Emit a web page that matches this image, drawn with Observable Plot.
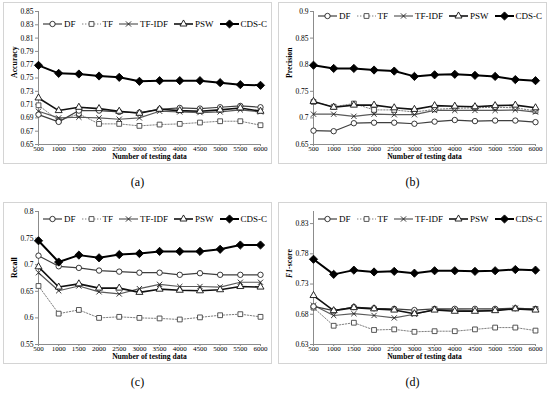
<!DOCTYPE html>
<html>
<head>
<meta charset="utf-8">
<script src="https://cdn.jsdelivr.net/npm/d3@7"></script>
<script src="https://cdn.jsdelivr.net/npm/@observablehq/plot@0.6"></script>
<style>
  html, body { margin: 0; padding: 0; background: #fff; }
  #page { position: relative; width: 550px; height: 399px; overflow: hidden; font-family: "Liberation Serif", "Times New Roman", serif; }
  .panel { position: absolute; width: 275px; height: 200px; }
  .frame { position: absolute; left: 3px; top: 2px; width: 267px; height: 160px; border: 1px solid #d4d4d4; }
  .plot { position: absolute; left: 0; top: 0; }
  .legend { position: absolute; left: 43px; display: flex; align-items: center; gap: 6px; font-size: 9px; color: #000; white-space: nowrap; }
  .legend .item { display: flex; align-items: center; gap: 2px; }
  .caption { position: absolute; width: 275px; text-align: center; font-size: 12px; top: 175px; }
</style>
</head>
<body>
<div id="page"></div>
<script>
// ---------- data ----------
const testingData = [500, 1000, 1500, 2000, 2500, 3000, 3500, 4000, 4500, 5000, 5500, 6000];
const seriesNames = ["DF", "TF", "TF-IDF", "PSW", "CDS-C"];

// (a) Accuracy
const accuracyDF    = [0.695, 0.684, 0.701, 0.701, 0.699, 0.698, 0.703, 0.705, 0.704, 0.706, 0.708, 0.706];
const accuracyTF    = [0.709, 0.686, 0.696, 0.681, 0.681, 0.678, 0.680, 0.681, 0.683, 0.685, 0.685, 0.679];
const accuracyTFIDF = [0.700, 0.690, 0.691, 0.690, 0.688, 0.690, 0.700, 0.699, 0.698, 0.699, 0.702, 0.699];
const accuracyPSW   = [0.720, 0.701, 0.706, 0.704, 0.700, 0.697, 0.703, 0.701, 0.700, 0.702, 0.705, 0.700];
const accuracyCDSC  = [0.769, 0.757, 0.756, 0.753, 0.751, 0.745, 0.746, 0.746, 0.746, 0.743, 0.740, 0.739];

// (b) Precision
const precisionDF    = [0.676, 0.675, 0.690, 0.691, 0.691, 0.689, 0.693, 0.696, 0.694, 0.695, 0.695, 0.692];
const precisionTF    = [0.730, 0.721, 0.727, 0.715, 0.715, 0.711, 0.716, 0.718, 0.719, 0.720, 0.719, 0.713];
const precisionTFIDF = [0.707, 0.707, 0.703, 0.707, 0.706, 0.706, 0.714, 0.714, 0.714, 0.714, 0.715, 0.711];
const precisionPSW   = [0.731, 0.720, 0.724, 0.724, 0.719, 0.716, 0.723, 0.722, 0.721, 0.723, 0.724, 0.719];
const precisionCDSC  = [0.799, 0.793, 0.793, 0.790, 0.788, 0.778, 0.781, 0.782, 0.780, 0.778, 0.772, 0.770];

// (c) Recall
const recallDF    = [0.717, 0.697, 0.694, 0.689, 0.687, 0.685, 0.685, 0.681, 0.684, 0.681, 0.681, 0.681];
const recallTF    = [0.660, 0.608, 0.615, 0.600, 0.602, 0.600, 0.599, 0.597, 0.601, 0.605, 0.607, 0.602];
const recallTFIDF = [0.685, 0.651, 0.660, 0.649, 0.645, 0.655, 0.663, 0.659, 0.659, 0.658, 0.667, 0.667];
const recallPSW   = [0.696, 0.658, 0.664, 0.656, 0.656, 0.648, 0.654, 0.652, 0.651, 0.653, 0.659, 0.658];
const recallCDSC  = [0.745, 0.705, 0.718, 0.713, 0.719, 0.721, 0.725, 0.725, 0.725, 0.729, 0.737, 0.737];

// (d) F1-score
const f1DF    = [0.693, 0.686, 0.692, 0.690, 0.689, 0.687, 0.689, 0.689, 0.689, 0.689, 0.690, 0.689];
const f1TF    = [0.691, 0.661, 0.666, 0.654, 0.655, 0.651, 0.652, 0.652, 0.655, 0.658, 0.658, 0.653];
const f1TFIDF = [0.695, 0.678, 0.681, 0.678, 0.674, 0.680, 0.688, 0.687, 0.686, 0.687, 0.690, 0.689];
const f1PSW   = [0.711, 0.686, 0.691, 0.689, 0.687, 0.681, 0.687, 0.685, 0.685, 0.686, 0.689, 0.687];
const f1CDSC  = [0.771, 0.746, 0.753, 0.750, 0.751, 0.748, 0.752, 0.752, 0.751, 0.752, 0.754, 0.753];

// tick labels
const accuracyTicks  = [0.65, 0.67, 0.69, 0.71, 0.73, 0.75, 0.77, 0.79, 0.81, 0.83, 0.85];
const precisionTicks = [0.65, 0.7, 0.75, 0.8, 0.85, 0.9];
const recallTicks    = [0.55, 0.6, 0.65, 0.7, 0.75, 0.8];
const f1Ticks        = [0.63, 0.68, 0.73, 0.78, 0.83];

const xTitle = "Number of testing data";

// ---------- styles ----------
const styles = {
  "DF":     {stroke: "#3f3f3f", width: 1.2, dash: null,      symbol: "circle",   r: 2.7, fill: "white", dotStroke: "#222"},
  "TF":     {stroke: "#7f7f7f", width: 1.0, dash: "1.4,1.6", symbol: "square",   r: 2.7, fill: "white", dotStroke: "#444"},
  "TF-IDF": {stroke: "#5a5a5a", width: 1.2, dash: null,      symbol: "times",    r: 2.5, fill: "none",  dotStroke: "#222"},
  "PSW":    {stroke: "#111",    width: 1.6, dash: null,      symbol: "triangle", r: 2.6, fill: "white", dotStroke: "#111"},
  "CDS-C":  {stroke: "#000",    width: 2.0, dash: null,      symbol: "diamond2", r: 3.7, fill: "#000",  dotStroke: "#000"}
};
const drawOrder = ["TF", "TF-IDF", "DF", "PSW", "CDS-C"];
const d3Symbols = {circle: d3.symbolCircle, square: d3.symbolSquare, times: d3.symbolTimes, triangle: d3.symbolTriangle, diamond2: d3.symbolDiamond2};

const trim2 = d => String(+d.toFixed(2));
const fix2 = d => d.toFixed(2);

const panels = [
  {cap: "(a)", left: 0,   top: 0,   yLabel: "Accuracy",  domain: [0.65, 0.85], ticks: accuracyTicks,  fmt: fix2,  legendY: 24,
   values: [accuracyDF, accuracyTF, accuracyTFIDF, accuracyPSW, accuracyCDSC]},
  {cap: "(b)", left: 275, top: 0,   yLabel: "Precision", domain: [0.65, 0.9],  ticks: precisionTicks, fmt: trim2, legendY: 16,
   values: [precisionDF, precisionTF, precisionTFIDF, precisionPSW, precisionCDSC]},
  {cap: "(c)", left: 0,   top: 200, yLabel: "Recall",    domain: [0.55, 0.8],  ticks: recallTicks,    fmt: trim2, legendY: 19,
   values: [recallDF, recallTF, recallTFIDF, recallPSW, recallCDSC]},
  {cap: "(d)", left: 275, top: 200, yLabel: "F1-score",  domain: [0.63, 0.85], ticks: f1Ticks,        fmt: fix2,  legendY: 19,
   values: [f1DF, f1TF, f1TFIDF, f1PSW, f1CDSC]}
];

const page = document.getElementById("page");

for (const p of panels) {
  const rows = seriesNames.flatMap((s, i) => testingData.map((x, j) => ({x, y: p.values[i][j], series: s})));
  const marks = [
    Plot.ruleX([testingData[0]], {stroke: "#8c8c8c", strokeWidth: 1}),
    Plot.ruleY([p.domain[0]], {stroke: "#8c8c8c", strokeWidth: 1}),
    Plot.axisY({ticks: p.ticks, tickFormat: p.fmt, tickSize: 3, tickPadding: 2, stroke: "#8c8c8c", fill: "#000", label: null}),
    Plot.axisX({ticks: testingData, tickFormat: d => String(d), tickSize: 2, tickPadding: 0, fontSize: 7, stroke: "#8c8c8c", fill: "#000", label: null}),
    Plot.text([xTitle], {frameAnchor: "bottom", dy: 14.5, fontWeight: "bold", fontSize: 7.6, fill: "#000"}),
    Plot.text([p.yLabel], {frameAnchor: "left", rotate: -90, dx: -24, fontWeight: "bold", fontSize: 7.8, fill: "#000"})
  ];
  for (const s of drawOrder) {
    const st = styles[s];
    const data = rows.filter(d => d.series === s);
    marks.push(Plot.line(data, {x: "x", y: "y", stroke: st.stroke, strokeWidth: st.width, strokeDasharray: st.dash}));
  }
  for (const s of drawOrder) {
    const st = styles[s];
    const data = rows.filter(d => d.series === s);
    marks.push(Plot.dot(data, {x: "x", y: "y", symbol: st.symbol, r: st.r, fill: st.fill, stroke: st.dotStroke, strokeWidth: 0.9}));
  }

  const chart = Plot.plot({
    width: 275,
    height: 164,
    marginLeft: 38,
    marginRight: 15,
    marginTop: 11,
    marginBottom: 20,
    style: {fontFamily: "'Liberation Serif', 'Times New Roman', serif", fontSize: "7.5px", background: "transparent", overflow: "visible", color: "#000"},
    x: {type: "linear", domain: [testingData[0], testingData[testingData.length - 1]]},
    y: {domain: p.domain},
    marks
  });

  // italic "F1" in the F1-score title
  chart.querySelectorAll("text").forEach(t => {
    if (t.textContent === "F1-score") {
      t.innerHTML = '<tspan font-style="italic">F1</tspan><tspan>-score</tspan>';
    }
  });

  const panel = document.createElement("div");
  panel.className = "panel";
  panel.style.left = p.left + "px";
  panel.style.top = p.top + "px";

  const frame = document.createElement("div");
  frame.className = "frame";
  panel.appendChild(frame);

  chart.classList.add("plot");
  chart.style.position = "absolute";
  chart.style.left = "0px";
  chart.style.top = "0px";
  panel.appendChild(chart);

  // legend
  const legend = document.createElement("div");
  legend.className = "legend";
  legend.style.top = (p.legendY - 6) + "px";
  legend.style.height = "12px";
  for (const s of seriesNames) {
    const st = styles[s];
    const item = document.createElement("div");
    item.className = "item";
    const sw = d3.create("svg").attr("width", 19).attr("height", 10).style("overflow", "visible");
    sw.append("line").attr("x1", 0).attr("x2", 19).attr("y1", 5).attr("y2", 5)
      .attr("stroke", st.stroke).attr("stroke-width", st.width).attr("stroke-dasharray", st.dash);
    sw.append("path").attr("transform", "translate(9.5,5)")
      .attr("d", d3.symbol(d3Symbols[st.symbol], Math.PI * st.r * st.r)())
      .attr("fill", st.fill).attr("stroke", st.dotStroke).attr("stroke-width", 0.9);
    item.appendChild(sw.node());
    const label = document.createElement("span");
    label.textContent = s;
    item.appendChild(label);
    legend.appendChild(item);
  }
  panel.appendChild(legend);

  const cap = document.createElement("div");
  cap.className = "caption";
  cap.textContent = p.cap;
  panel.appendChild(cap);

  page.appendChild(panel);
}
</script>
</body>
</html>
